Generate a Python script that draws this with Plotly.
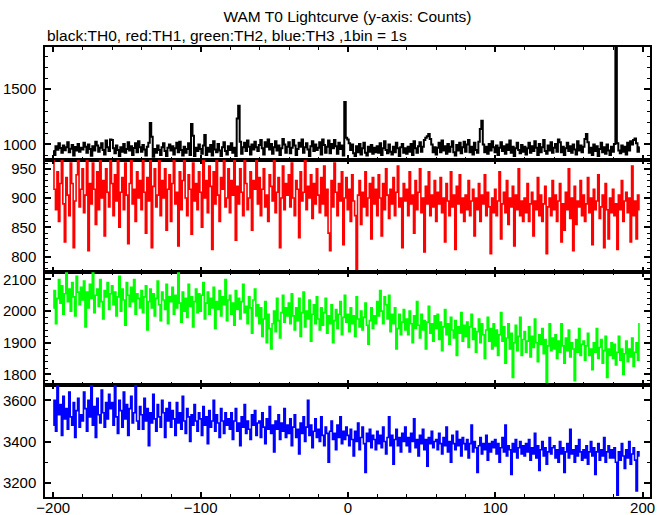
import plotly.graph_objects as go
from plotly.subplots import make_subplots

T_START = -200

th0 = [
    940, 905, 985, 952, 1010, 968, 925, 990, 948, 975, 1020, 930, 962, 995, 900, 978, 945, 1005, 935, 970,
    955, 1015, 980, 925, 1000, 960, 898, 985, 945, 1025, 990, 935, 970, 1010, 950, 910, 1035, 975, 940, 1045,
    1040, 965, 920, 990, 950, 895, 975, 935, 1005, 925, 960, 1020, 945, 985, 905, 968, 1012, 930, 1030, 975,
    935, 995, 955, 900, 980, 1015, 1195, 1070, 890, 960, 925, 990, 950, 905, 975, 1010, 940, 895, 970, 1000,
    945, 985, 910, 965, 1015, 930, 1025, 950, 900, 980, 925, 960, 1010, 905, 1185, 1080, 895, 970, 940, 1000,
    960, 915, 990, 1085, 905, 970, 935, 995, 900, 1030, 955, 930, 1005, 945, 895, 975, 1020, 940, 910, 985,
    950, 1010, 925, 970, 895, 1235, 1350, 1025, 915, 975, 1015, 940, 1035, 980, 910, 1000, 955, 1025, 975, 940,
    995, 1040, 965, 910, 1020, 980, 1045, 955, 1005, 915, 975, 1030, 945, 990, 905, 965, 1050, 1000, 925, 980,
    1020, 920, 970, 1040, 990, 905, 960, 1015, 980, 1045, 925, 975, 1010, 955, 895, 985, 1030, 940, 1000, 950,
    970, 1020, 910, 1045, 995, 925, 980, 1035, 920, 1005, 965, 1040, 985, 915, 1015, 960, 990, 900, 1385, 1060,
    1045, 1010, 950, 1000, 920, 895, 985, 930, 1005, 910, 965, 1015, 925, 900, 980, 935, 995, 915, 970, 930,
    985, 925, 1010, 905, 965, 1030, 950, 920, 1000, 935, 910, 980, 930, 1015, 965, 895, 975, 1005, 925, 965,
    915, 980, 935, 1005, 905, 1030, 965, 925, 985, 1020, 935, 980, 1040, 1060, 1075, 1095, 1050, 1000, 930, 975,
    910, 970, 1015, 930, 1035, 945, 985, 915, 1005, 935, 980, 1030, 930, 900, 995, 945, 1015, 920, 975, 1025,
    935, 1000, 1040, 930, 980, 910, 1015, 950, 925, 1025, 1140, 1215, 1000, 930, 980, 915, 1005, 945, 1030, 975,
    930, 990, 905, 970, 1020, 940, 985, 915, 1000, 950, 1035, 925, 980, 895, 965, 1015, 950, 920, 995, 935,
    980, 910, 965, 1015, 925, 985, 940, 1030, 970, 905, 1005, 930, 975, 1040, 940, 915, 990, 945, 1020, 925,
    970, 1005, 935, 1045, 1020, 930, 980, 905, 965, 1015, 940, 985, 925, 1000, 955, 910, 1030, 945, 990, 930,
    980, 1050, 1095, 1020, 925, 970, 905, 1000, 940, 985, 895, 960, 1015, 930, 975, 915, 1000, 945, 905, 980,
    935, 1005, 1900, 1010, 945, 920, 990, 935, 980, 910, 1015, 945, 1030, 1000, 1040, 1055, 1010, 935, 975,
]

th1 = [
    970, 915, 880, 945, 860, 925, 985, 890, 825, 935, 905, 870, 960, 925, 815, 895, 940, 980, 885, 915,
    950, 875, 905, 975, 810, 925, 890, 960, 915, 855, 945, 880, 990, 900, 930, 835, 950, 910, 885, 965,
    925, 870, 940, 895, 980, 850, 910, 935, 880, 960, 905, 822, 925, 975, 890, 915, 860, 945, 900, 930,
    880, 965, 910, 840, 935, 895, 985, 815, 920, 950, 885, 905, 965, 870, 930, 900, 950, 845, 915, 940,
    860, 925, 975, 890, 910, 818, 945, 880, 930, 965, 900, 870, 940, 915, 838, 960, 895, 925, 880, 945,
    910, 850, 980, 900, 930, 875, 955, 920, 812, 945, 890, 965, 905, 860, 935, 915, 985, 885, 900, 950,
    875, 930, 905, 965, 828, 920, 890, 950, 910, 870, 975, 925, 880, 900, 945, 845, 930, 915, 970, 890,
    935, 870, 915, 950, 885, 905, 860, 940, 920, 895, 965, 875, 910, 935, 815, 900, 955, 880, 925, 905,
    940, 885, 960, 900, 870, 930, 915, 832, 945, 895, 910, 975, 880, 920, 900, 940, 865, 925, 890, 950,
    905, 875, 935, 890, 955, 870, 915, 840, 810, 930, 885, 960, 910, 870, 925, 895, 945, 820, 900, 935,
    880, 915, 860, 940, 895, 870, 776, 905, 930, 855, 910, 885, 945, 870, 900, 925, 830, 935, 890, 915,
    870, 940, 900, 835, 925, 880, 950, 905, 865, 915, 890, 935, 870, 910, 955, 885, 900, 815, 925, 895,
    915, 870, 945, 890, 905, 840, 930, 880, 910, 950, 875, 900, 808, 920, 890, 945, 870, 905, 885, 930,
    860, 910, 890, 935, 875, 900, 825, 925, 895, 870, 945, 885, 905, 812, 920, 890, 940, 875, 900, 860,
    905, 880, 930, 870, 895, 915, 835, 900, 880, 925, 860, 905, 890, 940, 870, 910, 885, 805, 900, 875,
    915, 870, 895, 945, 830, 890, 910, 875, 930, 855, 900, 885, 920, 818, 905, 880, 950, 870, 895, 860,
    900, 875, 925, 860, 890, 910, 835, 895, 880, 935, 870, 905, 860, 890, 920, 805, 885, 900, 870, 930,
    880, 905, 860, 895, 925, 825, 890, 845, 910, 880, 950, 865, 900, 810, 920, 855, 895, 885, 930, 870,
    905, 860, 890, 935, 875, 900, 820, 915, 880, 895, 940, 865, 885, 905, 815, 925, 880, 830, 900, 875,
    915, 870, 890, 812, 905, 880, 930, 860, 895, 910, 875, 900, 825, 955, 870, 895, 830, 905, 880,
]

th2 = [
    2010, 2065, 1960, 2040, 2100, 2025, 2080, 1990, 2055, 2120, 2030, 2070, 2000, 2090, 2045, 1985, 2110, 2060, 2020, 2075,
    2035, 2095, 1950, 2060, 2010, 2085, 2040, 2120, 1995, 2050, 2070, 2015, 2100, 2030, 1975, 2065, 2045, 2090, 2005, 2055,
    2080, 2020, 2060, 1985, 2045, 2110, 2000, 2070, 2035, 1955, 2090, 2050, 2015, 2075, 2030, 2100, 1990, 2055, 2040, 2010,
    2065, 1995, 2045, 2080, 1940, 2030, 2070, 2010, 2055, 1985, 2040, 2095, 2020, 1970, 2060, 2035, 2005, 2085, 1960, 2045,
    2030, 2075, 1990, 2050, 2010, 2120, 2025, 1965, 2060, 2000, 2040, 1980, 2085, 2015, 2045, 1950, 2030, 2070, 1995, 2055,
    2000, 2050, 2090, 1975, 2025, 2060, 1990, 2040, 2010, 2075, 1945, 2030, 2005, 2065, 1985, 2045, 2020, 2100, 1970, 2035,
    2050, 1990, 2025, 1955, 2065, 2005, 2040, 1975, 2030, 2085, 1995, 2015, 1960, 2045, 2010, 1930, 2035, 2070, 1985, 2020,
    1960, 2010, 1920, 1975, 2030, 1900, 1990, 1945, 1880, 1960, 2000, 1935, 2040, 1970, 1915, 1995, 2050, 1965, 2010, 1985,
    2025, 1960, 2055, 1985, 1940, 2010, 1970, 2040, 1920, 1995, 2060, 1950, 2000, 1975, 2035, 1905, 1990, 2020, 1960, 2045,
    1975, 1940, 2010, 1955, 1995, 2040, 1930, 1985, 1960, 2020, 1900, 1970, 2005, 1945, 1990, 2030, 1925, 1980, 2050, 1965,
    1990, 1935, 2010, 1960, 1985, 1920, 2045, 1975, 1950, 2000, 1940, 1980, 2025, 1955, 1895, 1970, 2010, 1945, 1985, 1960,
    2030, 1985, 2065, 2000, 1960, 2045, 2020, 1975, 2050, 1935, 1990, 1960, 2010, 1880, 1945, 1990, 1925, 1965, 2005, 1940,
    1975, 1925, 2000, 1960, 1900, 1985, 1945, 2030, 1955, 1915, 1990, 1940, 1970, 1880, 1965, 2015, 1930, 1960, 1905, 1985,
    1945, 1990, 1910, 1965, 1875, 1950, 2005, 1925, 1960, 1895, 1980, 1940, 1915, 1970, 1860, 1950, 1930, 1995, 1905, 1955,
    1920, 1965, 1885, 1950, 1990, 1910, 1945, 1870, 1935, 1975, 1900, 1960, 1925, 1850, 1940, 1980, 1905, 1945, 1880, 1960,
    1890, 1940, 1860, 1925, 1995, 1905, 1950, 1835, 1915, 1960, 1880, 1930, 1790, 1900, 1955, 1875, 1920, 1980, 1860, 1910,
    1935, 1870, 1905, 1950, 1855, 1920, 1885, 1975, 1900, 1840, 1925, 1895, 1945, 1865, 1910, 1775, 1890, 1960, 1875, 1915,
    1880, 1925, 1850, 1905, 1870, 1960, 1890, 1835, 1915, 1875, 1940, 1855, 1900, 1880, 1780, 1910, 1870, 1945, 1860, 1895,
    1905, 1845, 1890, 1930, 1860, 1880, 1815, 1900, 1870, 1945, 1850, 1885, 1910, 1835, 1875, 1920, 1790, 1880, 1860, 1900,
    1850, 1895, 1830, 1870, 1920, 1845, 1880, 1800, 1865, 1905, 1840, 1880, 1855, 1915, 1825, 1870, 1900, 1845, 1960,
]

th3 = [
    3480, 3600, 3450, 3670, 3530, 3580, 3430, 3620, 3510, 3560, 3460, 3640, 3520, 3480, 3590, 3420, 3550, 3610, 3470, 3530,
    3500, 3640, 3560, 3450, 3600, 3520, 3675, 3480, 3570, 3420, 3610, 3530, 3490, 3650, 3540, 3470, 3590, 3510, 3630, 3560,
    3590, 3480, 3670, 3520, 3440, 3600, 3550, 3470, 3640, 3510, 3580, 3430, 3560, 3620, 3490, 3540, 3680, 3500, 3460, 3570,
    3530, 3460, 3610, 3500, 3560, 3380, 3540, 3490, 3630, 3510, 3450, 3580, 3520, 3470, 3600, 3540, 3420, 3560, 3500, 3590,
    3470, 3550, 3510, 3430, 3590, 3490, 3540, 3460, 3620, 3500, 3440, 3560, 3520, 3400, 3530, 3480, 3580, 3500, 3450, 3540,
    3510, 3430, 3570, 3480, 3520, 3390, 3550, 3470, 3500, 3600, 3450, 3530, 3490, 3420, 3560, 3500, 3440, 3540, 3480, 3510,
    3460, 3540, 3410, 3500, 3560, 3450, 3490, 3380, 3520, 3470, 3580, 3440, 3500, 3460, 3410, 3530, 3480, 3550, 3430, 3490,
    3500, 3420, 3540, 3470, 3390, 3510, 3460, 3570, 3440, 3480, 3350, 3500, 3460, 3530, 3410, 3490, 3450, 3560, 3420, 3480,
    3440, 3510, 3380, 3470, 3530, 3420, 3460, 3340, 3490, 3440, 3520, 3400, 3470, 3600, 3430, 3480, 3370, 3450, 3510, 3420,
    3460, 3400, 3520, 3430, 3380, 3470, 3440, 3300, 3450, 3500, 3410, 3440, 3360, 3480, 3420, 3520, 3390, 3450, 3410, 3470,
    3430, 3380, 3460, 3410, 3330, 3450, 3400, 3490, 3360, 3420, 3470, 3390, 3250, 3440, 3400, 3460, 3370, 3430, 3410, 3360,
    3450, 3390, 3430, 3370, 3470, 3400, 3340, 3420, 3520, 3380, 3430, 3290, 3410, 3460, 3380, 3420, 3350, 3440, 3400, 3470,
    3380, 3420, 3350, 3440, 3400, 3510, 3370, 3410, 3330, 3430, 3390, 3460, 3360, 3410, 3280, 3420, 3390, 3450, 3370, 3400,
    3410, 3360, 3440, 3390, 3340, 3420, 3380, 3470, 3350, 3400, 3300, 3430, 3390, 3360, 3450, 3380, 3410, 3330, 3420, 3390,
    3360, 3410, 3320, 3390, 3480, 3350, 3400, 3370, 3250, 3380, 3420, 3340, 3390, 3360, 3430, 3310, 3390, 3350, 3400, 3370,
    3410, 3340, 3390, 3300, 3370, 3420, 3350, 3480, 3330, 3380, 3360, 3240, 3390, 3350, 3410, 3320, 3370, 3400, 3340, 3380,
    3330, 3390, 3350, 3410, 3310, 3370, 3340, 3440, 3320, 3380, 3260, 3360, 3400, 3330, 3370, 3290, 3350, 3420, 3340, 3370,
    3380, 3320, 3360, 3300, 3400, 3340, 3370, 3250, 3350, 3390, 3320, 3460, 3340, 3360, 3300, 3380, 3330, 3410, 3350, 3310,
    3360, 3320, 3380, 3290, 3350, 3400, 3330, 3370, 3240, 3350, 3390, 3310, 3360, 3330, 3420, 3300, 3350, 3380, 3320, 3360,
    3320, 3370, 3300, 3140, 3350, 3310, 3390, 3330, 3270, 3360, 3320, 3400, 3290, 3340, 3370, 3310, 3160, 3350, 3330,
]

series = [th0, th1, th2, th3]
colors = ["#000000", "#ff0000", "#00ff00", "#0000ff"]
line_widths = [2, 1.6, 1.6, 1.6]
y_ranges = [[864, 1882], [773.5, 966], [1768, 2123.5], [3131, 3677]]
y_dticks = [500, 50, 100, 200]
y_minor = [100, 10, 20, 100]
x_range = [-205.6, 205]

title_text = "WAM T0 Lightcurve (y-axis: Counts)"
subtitle_text = "black:TH0, red:TH1, green:TH2, blue:TH3 ,1bin = 1s"

FONT = "Liberation Sans, Arial, Helvetica, sans-serif"

fig = make_subplots(rows=4, cols=1, shared_xaxes=True, vertical_spacing=0)

for i, (ys, c, w) in enumerate(zip(series, colors, line_widths)):
    t = list(range(T_START, T_START + len(ys)))
    fig.add_trace(
        go.Scatter(x=t, y=ys, mode="lines",
                   line=dict(color=c, width=w, shape="hvh", simplify=False),
                   showlegend=False, hoverinfo="skip"),
        row=i + 1, col=1,
    )

for i in range(4):
    fig.update_yaxes(
        range=y_ranges[i], dtick=y_dticks[i], tick0=0,
        ticks="inside", ticklen=6, tickwidth=1.5, tickcolor="black",
        minor=dict(dtick=y_minor[i], tick0=0, ticks="inside", ticklen=3, tickwidth=1, tickcolor="black"),
        showline=True, linecolor="black", linewidth=1.5, mirror="allticks",
        showgrid=False, zeroline=False, automargin=False,
        tickfont=dict(family=FONT, size=15, color="black"),
        ticklabelstandoff=4,
        row=i + 1, col=1,
    )
    fig.update_xaxes(
        range=x_range, dtick=100, tick0=0,
        ticks="inside", ticklen=5, tickwidth=1.5, tickcolor="black",
        minor=dict(dtick=20, tick0=0, ticks="inside", ticklen=3, tickwidth=1, tickcolor="black"),
        showline=True, linecolor="black", linewidth=1.5, mirror="allticks",
        showgrid=False, zeroline=False, automargin=False,
        tickfont=dict(family=FONT, size=15, color="black"),
        ticklabelstandoff=-4,
        row=i + 1, col=1,
    )

fig.update_layout(
    width=669, height=515,
    margin=dict(l=45, r=19, t=47, b=18),
    paper_bgcolor="white", plot_bgcolor="white",
    title=dict(text=title_text, x=0.5, xref="paper", xanchor="center",
               y=1 - 17 / 515, yref="container", yanchor="middle",
               font=dict(family=FONT, size=15.5, color="black")),
    annotations=[dict(text=subtitle_text, x=0, xref="paper", xanchor="left",
                      y=(497 - 36) / 450, yref="paper", yanchor="middle", showarrow=False,
                      font=dict(family=FONT, size=15.5, color="black"))],
)

post_js = """
document.body.style.margin='0px';
document.body.style.overflow='hidden';
"""

fig.write_html("out.html", config={"displayModeBar": False}, post_script=post_js)
